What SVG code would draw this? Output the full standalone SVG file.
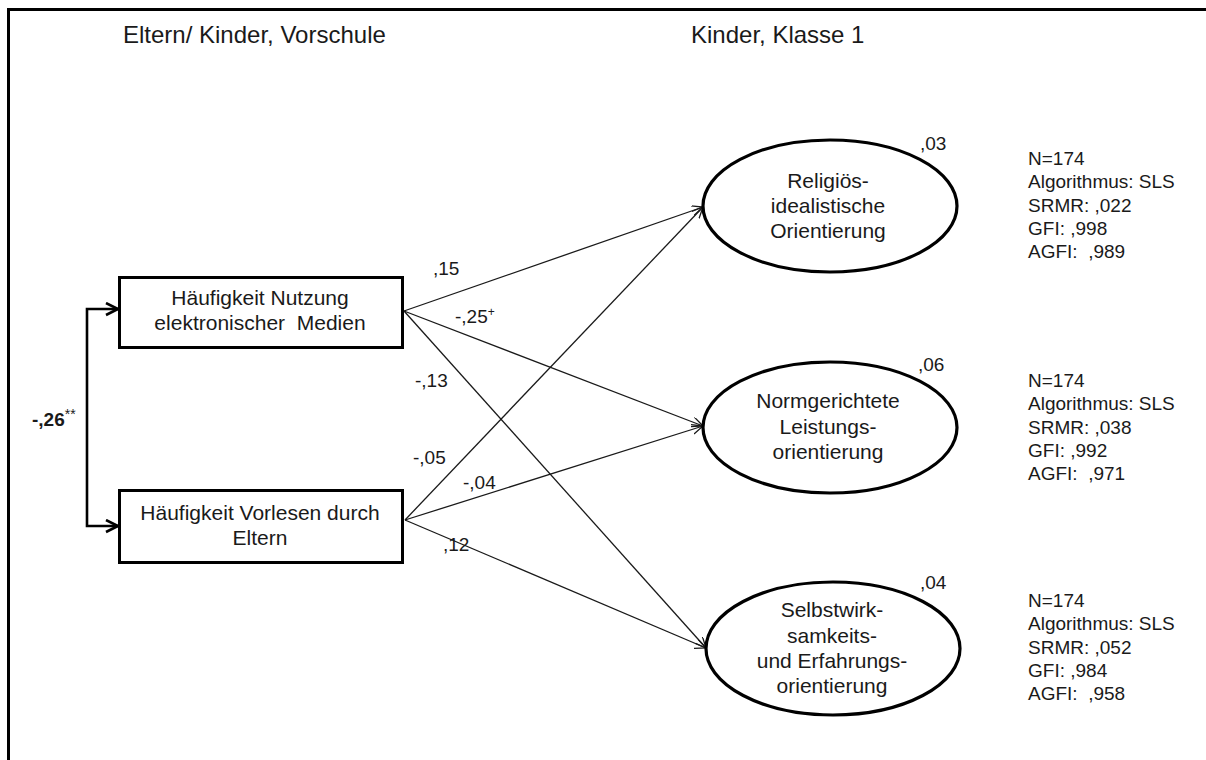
<svg xmlns="http://www.w3.org/2000/svg" width="1206" height="760" viewBox="0 0 1206 760">
  <style>
    text { font-family: "Liberation Sans", Arial, sans-serif; fill: #1a1a1a; }
    .title { font-size: 24px; }
    .lbl { font-size: 21px; text-anchor: middle; }
    .coef { font-size: 19px; }
    .stat { font-size: 19px; }
    .sup { font-size: 12px; }
    .box { fill: #fff; stroke: #000; stroke-width: 3; }
    .lat { fill: #fff; stroke: #000; stroke-width: 3.2; }
    .path { fill: none; stroke: #1a1a1a; stroke-width: 1.3; marker-end: url(#open); }
    .cov { fill: none; stroke: #000; stroke-width: 2.6; marker-start: url(#openBold); marker-end: url(#openBold); }
  </style>
  <defs>
    <marker id="open" markerUnits="userSpaceOnUse" markerWidth="14" markerHeight="12" refX="11" refY="5" orient="auto">
      <path d="M0,0 L11,5 L0,10" fill="none" stroke="#1a1a1a" stroke-width="1.3"/>
    </marker>
    <marker id="openBold" markerUnits="userSpaceOnUse" markerWidth="16" markerHeight="16" refX="13" refY="7" orient="auto-start-reverse">
      <path d="M1,1 L13,7 L1,13" fill="none" stroke="#000" stroke-width="2.6"/>
    </marker>
  </defs>

  <rect width="1206" height="760" fill="#fff"/>
  <!-- frame (left and top edges) -->
  <path d="M8.5,760 V9.5 H1206" fill="none" stroke="#000" stroke-width="3"/>

  <!-- column headings -->
  <text class="title" x="123" y="43">Eltern/ Kinder, Vorschule</text>
  <text class="title" x="691" y="43">Kinder, Klasse 1</text>

  <!-- connectors -->
  <g id="connectors">
    <path class="cov" d="M118,309 H87 V526 H118"/>
    <line class="path" x1="404" y1="311" x2="703" y2="207"/>
    <line class="path" x1="404" y1="311" x2="703" y2="426"/>
    <line class="path" x1="404" y1="311" x2="706" y2="648"/>
    <line class="path" x1="405" y1="520" x2="703" y2="207"/>
    <line class="path" x1="405" y1="520" x2="703" y2="426"/>
    <line class="path" x1="405" y1="520" x2="706" y2="648"/>
  </g>

  <!-- path coefficients -->
  <g id="coefficients">
    <text x="32" y="426" style="font-size:19px;font-weight:bold">-,26<tspan style="font-size:14px;font-weight:normal" dy="-7">**</tspan></text>
    <text class="coef" x="433" y="275">,15</text>
    <text class="coef" x="455" y="323">-,25<tspan class="sup" dy="-7">+</tspan></text>
    <text class="coef" x="415" y="387">-,13</text>
    <text class="coef" x="413" y="464">-,05</text>
    <text class="coef" x="463" y="489">-,04</text>
    <text class="coef" x="443" y="551">,12</text>
  </g>

  <!-- observed predictors -->
  <g id="node-medien">
    <rect class="box" x="119.5" y="277.5" width="283" height="70"/>
    <text class="lbl" x="260" y="305">Häufigkeit Nutzung</text>
    <text class="lbl" x="260" y="330" xml:space="preserve">elektronischer  Medien</text>
  </g>
  <g id="node-vorlesen">
    <rect class="box" x="119.5" y="490.5" width="283" height="72"/>
    <text class="lbl" x="260" y="520">Häufigkeit Vorlesen durch</text>
    <text class="lbl" x="260" y="545">Eltern</text>
  </g>

  <!-- latent outcomes -->
  <g id="node-religioes">
    <ellipse class="lat" cx="830" cy="206" rx="127" ry="66"/>
    <text class="lbl" x="828" y="188">Religiös-</text>
    <text class="lbl" x="828" y="213">idealistische</text>
    <text class="lbl" x="828" y="238">Orientierung</text>
    <text class="coef" x="920" y="150">,03</text>
  </g>
  <g id="node-norm">
    <ellipse class="lat" cx="830" cy="427.5" rx="127" ry="65.5"/>
    <text class="lbl" x="828" y="408">Normgerichtete</text>
    <text class="lbl" x="828" y="434">Leistungs-</text>
    <text class="lbl" x="828" y="459">orientierung</text>
    <text class="coef" x="918" y="371">,06</text>
  </g>
  <g id="node-selbst">
    <ellipse class="lat" cx="833" cy="648.5" rx="127" ry="66.5"/>
    <text class="lbl" x="832" y="617">Selbstwirk-</text>
    <text class="lbl" x="832" y="643">samkeits-</text>
    <text class="lbl" x="832" y="668">und Erfahrungs-</text>
    <text class="lbl" x="832" y="693">orientierung</text>
    <text class="coef" x="920" y="589">,04</text>
  </g>

  <!-- fit statistics -->
  <g id="fit-1">
    <text class="stat" x="1028" y="165">N=174</text>
    <text class="stat" x="1028" y="188">Algorithmus: SLS</text>
    <text class="stat" x="1028" y="212">SRMR: ,022</text>
    <text class="stat" x="1028" y="235" xml:space="preserve">GFI: ,998</text>
    <text class="stat" x="1028" y="258" xml:space="preserve">AGFI:  ,989</text>
  </g>
  <g id="fit-2">
    <text class="stat" x="1028" y="387">N=174</text>
    <text class="stat" x="1028" y="410">Algorithmus: SLS</text>
    <text class="stat" x="1028" y="434">SRMR: ,038</text>
    <text class="stat" x="1028" y="457" xml:space="preserve">GFI: ,992</text>
    <text class="stat" x="1028" y="480" xml:space="preserve">AGFI:  ,971</text>
  </g>
  <g id="fit-3">
    <text class="stat" x="1028" y="607">N=174</text>
    <text class="stat" x="1028" y="630">Algorithmus: SLS</text>
    <text class="stat" x="1028" y="654">SRMR: ,052</text>
    <text class="stat" x="1028" y="677" xml:space="preserve">GFI: ,984</text>
    <text class="stat" x="1028" y="700" xml:space="preserve">AGFI:  ,958</text>
  </g>
</svg>
